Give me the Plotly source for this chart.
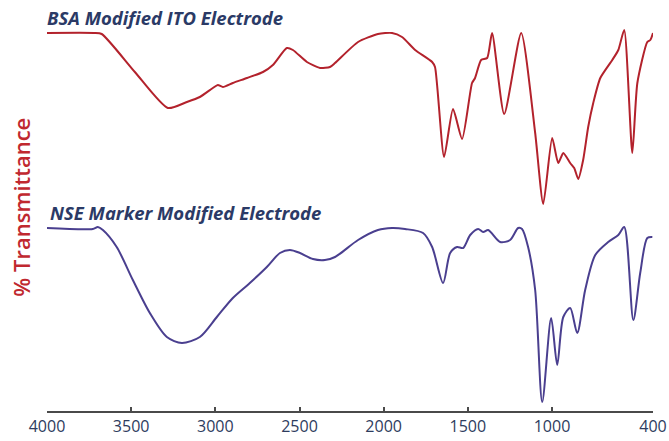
import plotly.graph_objects as go

# Wavenumbers (cm^-1) and relative transmittance (a.u.)
bsa_wn = [4000, 3720, 3675, 3478, 3282, 3169, 3092, 3015, 2985, 2955, 2896, 2812, 2717, 2658,
          2575, 2539, 2456, 2378, 2319, 2289, 2152, 2034, 1950, 1891, 1813, 1712, 1695,
          1641, 1588, 1534, 1475, 1457, 1421, 1385, 1356, 1284, 1183, 1100, 1052, 999,
          963, 933, 892, 868, 844, 815, 785, 755, 713, 642, 606, 571, 523, 493, 434, 416, 400]
bsa_t = [378, 378, 377, 339, 303, 309, 314, 323, 326, 324, 328, 333, 339, 346,
         363, 361, 349, 343, 344, 348, 369, 377, 378, 374, 361, 349, 344,
         254, 302, 272, 328, 333, 351, 353, 378, 297, 378, 278, 207, 273,
         248, 258, 248, 243, 232, 251, 284, 308, 333, 351, 361, 381, 258, 328, 369, 371, 378]

nse_wn = [4000, 3728, 3698, 3668, 3586, 3490, 3389, 3288, 3199, 3092, 2991, 2896, 2795,
          2694, 2616, 2557, 2497, 2420, 2349, 2289, 2152, 2034, 1950, 1873, 1766, 1712,
          1647, 1605, 1564, 1528, 1486, 1439, 1409, 1379, 1308, 1249, 1201, 1178, 1142,
          1100, 1058, 1005, 969, 933, 892, 850, 803, 743, 666, 606, 571, 517, 476, 434, 404]
nse_t = [183, 182, 184, 181, 164, 131, 98, 74, 68, 74, 94, 113, 128,
         144, 158, 161, 158, 152, 151, 154, 171, 181, 183, 182, 178, 164,
         128, 158, 164, 163, 176, 182, 179, 181, 169, 171, 183, 182, 164,
         121, 9, 93, 46, 94, 103, 78, 121, 156, 169, 176, 184, 91, 138, 173, 174]

tick_vals = [4000, 3500, 3000, 2500, 2000, 1500, 1000, 400]
tick_text = ["4000", "3500", "3000", "2500", "2000", "1500", "1000", "400"]

fig = go.Figure()
fig.add_trace(go.Scatter(x=bsa_wn, y=bsa_t, mode="lines",
                         line=dict(color="#b3222c", width=2, shape="spline", smoothing=0.6),
                         showlegend=False, hoverinfo="skip"))
fig.add_trace(go.Scatter(x=nse_wn, y=nse_t, mode="lines",
                         line=dict(color="#4a3f8f", width=2, shape="spline", smoothing=0.8),
                         showlegend=False, hoverinfo="skip"))

fig.update_layout(
    width=669, height=441,
    margin=dict(l=47, r=16, t=0, b=30),
    paper_bgcolor="white", plot_bgcolor="white",
    xaxis=dict(range=[4000, 400], tickvals=tick_vals, ticktext=tick_text,
               showgrid=False, zeroline=False, showline=True, linecolor="#4a4a4a", linewidth=2,
               ticks="inside", ticklen=4, tickwidth=2, tickcolor="#4a4a4a",
               tickfont=dict(family="Open Sans", size=16, color="#2e3c5e")),
    yaxis=dict(range=[0, 411], showticklabels=False, showgrid=False, zeroline=False,
               showline=False, ticks=""),
    font=dict(family="Open Sans"),
)

fig.add_annotation(xref="paper", yref="paper", x=-0.042, y=0.496, text="% Transmittance",
                   textangle=-90, showarrow=False, xanchor="center", yanchor="middle",
                   font=dict(family="Open Sans", size=22, color="#c0282f", weight=600))
fig.add_annotation(xref="paper", yref="paper", x=-0.004, y=(441 - 18 - 30) / 411,
                   text="<b><i>BSA Modified ITO Electrode</i></b>", showarrow=False,
                   xanchor="left", yanchor="middle",
                   font=dict(family="Open Sans", size=18.5, color="#2b3a66"))
fig.add_annotation(xref="paper", yref="paper", x=0.001, y=(441 - 213 - 30) / 411,
                   text="<b><i>NSE Marker Modified Electrode</i></b>", showarrow=False,
                   xanchor="left", yanchor="middle",
                   font=dict(family="Open Sans", size=18.5, color="#2b3a66"))

fig.write_html("out.html")
